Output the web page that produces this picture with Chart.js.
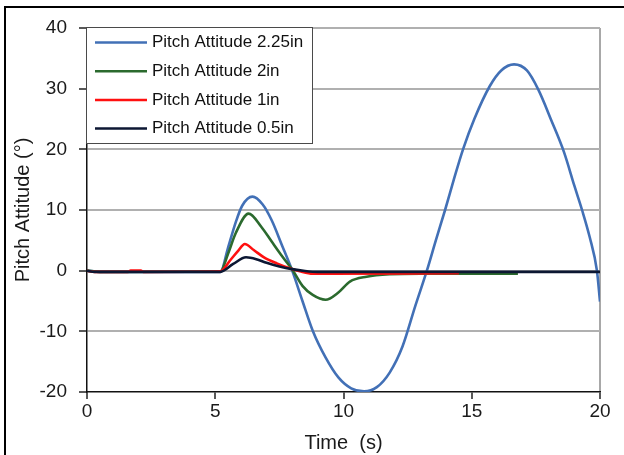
<!DOCTYPE html>
<html>
<head>
<meta charset="utf-8">
<script src="https://cdn.jsdelivr.net/npm/chart.js@4.4.1/dist/chart.umd.min.js"></script>
<style>
html, body { margin: 0; padding: 0; background: #fff; }
#wrap { position: relative; width: 624px; height: 455px; overflow: hidden; background: #fff; }
#wrap canvas { position: absolute; left: 0; top: 0; }
#frame {
    position: absolute; left: 4px; top: 6px; width: 700px; height: 600px;
    border-left: 2px solid #000; border-top: 2px solid #000; pointer-events: none;
}
</style>
</head>
<body>
<div id="wrap">
    <canvas id="pitchChart" width="624" height="455"></canvas>
    <div id="frame"></div>
</div>
<script>
const FONT = '"Liberation Sans", Arial, sans-serif';

// Pitch Attitude 2.25in
const t225 = [0, 0.5, 5.2, 5.5, 5.8, 6.05, 6.45, 6.85, 7.2, 7.6, 8.0, 8.4, 8.8, 9.3, 9.8, 10.3, 10.8, 11.3, 11.8,
    12.3, 12.8, 13.25, 13.6, 13.96, 14.3, 14.66, 15.1, 15.7, 16.15, 16.65, 17.15, 17.6, 18.1, 18.6, 19.0, 19.3,
    19.6, 19.88, 20.0];
const v225 = [0, -0.2, -0.2, 3.8, 8.0, 10.7, 12.2, 10.9, 8.3, 4.2, 0.0, -5.0, -9.9, -14.3, -17.6, -19.4, -19.9,
    -19.2, -16.8, -12.5, -5.8, 0, 5.0, 10.0, 15.0, 20.0, 25.0, 30.4, 33.0, 34.0, 33.0, 29.8, 24.8, 19.5, 14.0, 10.0,
    5.5, 0, -5.1];

// Pitch Attitude 2in
const t200 = [0, 0.5, 5.2, 5.5, 5.8, 6.3, 6.8, 7.2, 7.5, 7.8, 8.0, 8.4, 8.8, 9.3, 9.8, 10.25, 10.9, 11.8, 13.0, 16.8];
const v200 = [0, -0.2, -0.1, 2.8, 6.2, 9.4, 7.2, 4.8, 3.0, 1.3, 0.2, -2.5, -4.0, -4.8, -3.6, -1.8, -1.0, -0.6, -0.5, -0.5];

// Pitch Attitude 1in
const t100 = [0, 0.3, 1.6, 1.7, 2.1, 2.2, 5.2, 5.6, 5.9, 6.15, 6.5, 6.9, 7.4, 7.9, 8.3, 8.8, 9.5, 14.5];
const v100 = [0, -0.2, -0.2, 0, 0, -0.2, -0.1, 1.8, 3.3, 4.4, 3.4, 2.2, 1.2, 0.4, -0.1, -0.5, -0.5, -0.4];

// Pitch Attitude 0.5in
const t050 = [0, 0.3, 5.2, 5.7, 6.2, 6.6, 7.0, 7.5, 8.0, 8.5, 9.0, 20.0];
const v050 = [0, -0.2, -0.2, 1.1, 2.2, 1.9, 1.3, 0.7, 0.25, -0.05, -0.2, -0.2];

const seriesLabels = ['Pitch Attitude 2.25in', 'Pitch Attitude 2in', 'Pitch Attitude 1in', 'Pitch Attitude 0.5in'];
const seriesColors = ['#4270b6', '#2b6a2e', '#ff1010', '#0c1733'];
const seriesTimes = [t225, t200, t100, t050];
const seriesValues = [v225, v200, v100, v050];

const xTicks = [0, 5, 10, 15, 20];
const yTicks = [-20, -10, 0, 10, 20, 30, 40];

const toPoints = (ts, vs) => ts.map((t, i) => ({ x: t, y: vs[i] }));

// legend drawn as a boxed panel at the top-left corner of the plot
const boxLegend = {
    id: 'boxLegend',
    afterDraw(chart) {
        const { ctx, chartArea } = chart;
        const x0 = chartArea.left;
        const y0 = chartArea.top;
        const w = 226;
        const h = 116;
        const rowH = 28.7;
        ctx.save();
        ctx.fillStyle = '#fff';
        ctx.fillRect(x0, y0, w, h);
        ctx.strokeStyle = '#4a4a4a';
        ctx.lineWidth = 1;
        ctx.strokeRect(x0 - 0.5, y0 - 0.5, w, h);
        ctx.font = '17px ' + FONT;
        ctx.textBaseline = 'middle';
        chart.data.datasets.forEach((ds, i) => {
            const y = y0 + 14.5 + i * rowH;
            ctx.strokeStyle = ds.borderColor;
            ctx.lineWidth = 2.5;
            ctx.beginPath();
            ctx.moveTo(x0 + 8, y);
            ctx.lineTo(x0 + 60, y);
            ctx.stroke();
            ctx.fillStyle = '#111';
            ctx.fillText(ds.label, x0 + 65, y);
        });
        ctx.restore();
    },
};

const canvas = document.getElementById('pitchChart');
new Chart(canvas.getContext('2d'), {
    type: 'line',
    data: {
        datasets: seriesLabels.map((label, i) => ({
            label,
            data: toPoints(seriesTimes[i], seriesValues[i]),
            borderColor: seriesColors[i],
            backgroundColor: seriesColors[i],
            borderWidth: 2.6,
            pointRadius: 0,
            fill: false,
            cubicInterpolationMode: 'monotone',
            order: seriesLabels.length - i,
        })),
    },
    options: {
        responsive: false,
        animation: false,
        layout: { padding: { left: 0, right: 24, top: 28, bottom: 0 } },
        plugins: {
            legend: { display: false },
            tooltip: { enabled: false },
        },
        scales: {
            x: {
                type: 'linear',
                min: xTicks[0],
                max: xTicks[xTicks.length - 1],
                afterBuildTicks(scale) {
                    scale.ticks = xTicks.map((v) => ({ value: v }));
                },
                afterFit(scale) {
                    scale.height = 63;
                },
                ticks: {
                    color: '#1a1a1a',
                    font: { size: 19, family: FONT },
                    padding: 1,
                    maxRotation: 0,
                },
                grid: {
                    color: (c) => (c.tick && c.tick.value === 20 ? '#a8a8a8' : 'rgba(0,0,0,0)'),
                    lineWidth: 2,
                    tickColor: '#222',
                    tickLength: 7,
                    tickWidth: 1.5,
                },
                border: { color: '#111', width: 1.5 },
                title: {
                    display: true,
                    text: 'Time  (s)',
                    color: '#1a1a1a',
                    font: { size: 20, family: FONT },
                    padding: { top: 0, bottom: 0 },
                },
            },
            y: {
                min: yTicks[0],
                max: yTicks[yTicks.length - 1],
                afterBuildTicks(scale) {
                    scale.ticks = yTicks.map((v) => ({ value: v }));
                },
                afterFit(scale) {
                    scale.width = 87;
                },
                ticks: {
                    color: '#1a1a1a',
                    font: { size: 19, family: FONT },
                    padding: 12,
                },
                grid: {
                    color: (c) => (c.tick && c.tick.value === -20 ? 'rgba(0,0,0,0)' : '#b0b0b0'),
                    lineWidth: 2,
                    tickColor: '#222',
                    tickLength: 8,
                    tickWidth: 1.5,
                },
                border: { color: '#111', width: 1.5 },
                title: {
                    display: true,
                    text: 'Pitch Attitude (°)',
                    color: '#1a1a1a',
                    font: { size: 20, family: FONT },
                    padding: { top: 11, bottom: 0 },
                },
            },
        },
    },
    plugins: [boxLegend],
});
</script>
</body>
</html>
